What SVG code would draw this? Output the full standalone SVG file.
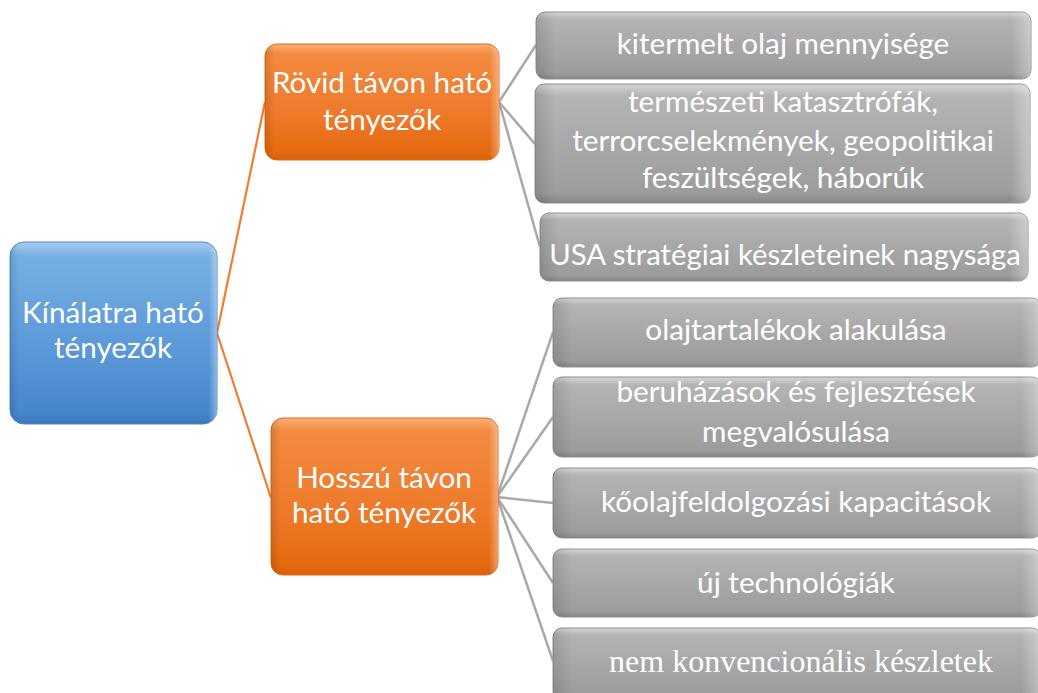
<svg xmlns="http://www.w3.org/2000/svg" width="1038" height="693" viewBox="0 0 1038 693">
<defs>
<linearGradient id="gGray" x1="0" y1="0" x2="0" y2="1">
<stop offset="0" stop-color="#d6d6d6"/>
<stop offset="0.1" stop-color="#b4b4b4"/>
<stop offset="0.5" stop-color="#a8a8a8"/>
<stop offset="0.92" stop-color="#9c9c9c"/>
<stop offset="1" stop-color="#858585"/>
</linearGradient>
<linearGradient id="gOrange" x1="0" y1="0" x2="0" y2="1">
<stop offset="0" stop-color="#f8b07a"/>
<stop offset="0.08" stop-color="#f38a40"/>
<stop offset="0.6" stop-color="#ee7a2a"/>
<stop offset="0.94" stop-color="#e4690f"/>
<stop offset="1" stop-color="#d9600a"/>
</linearGradient>
<linearGradient id="gBlue" x1="0" y1="0" x2="0" y2="1">
<stop offset="0" stop-color="#a8cdf0"/>
<stop offset="0.08" stop-color="#76aee3"/>
<stop offset="0.6" stop-color="#5a98d8"/>
<stop offset="0.94" stop-color="#4586ca"/>
<stop offset="1" stop-color="#3a78bb"/>
</linearGradient>
<linearGradient id="gSide" x1="0" y1="0" x2="1" y2="0">
<stop offset="0" stop-color="#000" stop-opacity="0.12"/>
<stop offset="0.04" stop-color="#000" stop-opacity="0"/>
<stop offset="0.96" stop-color="#fff" stop-opacity="0"/>
<stop offset="1" stop-color="#fff" stop-opacity="0.35"/>
</linearGradient>
</defs>
<style>
.gray{fill:url(#gGray);stroke:#8f8f8f;stroke-width:1}
.orange{fill:url(#gOrange);stroke:#e06a14;stroke-width:1}
.blue{fill:url(#gBlue);stroke:#4a88c8;stroke-width:1}
.side{fill:url(#gSide);stroke:none}
.t{font-family:Lato,"Open Sans","Liberation Sans",sans-serif;fill:#ffffff;text-anchor:middle;font-size:29.7px}
.s{font-family:"Liberation Serif",serif;fill:#ffffff;text-anchor:middle;font-size:32px}
.co{stroke:#ed7d31;stroke-width:2.2;fill:none}
.cg{stroke:#a9a9a9;stroke-width:2.5;fill:none}
</style>
<g id="connectors">
<path class="co" d="M217,333 L265,102"/>
<path class="co" d="M217,333 L271,498"/>
<path class="cg" d="M499,102 L536,45"/>
<path class="cg" d="M499,102 L535,144"/>
<path class="cg" d="M499,102 L540,247"/>
<path class="cg" d="M497,497 L553,332"/>
<path class="cg" d="M497,497 L553,417"/>
<path class="cg" d="M497,497 L553,503"/>
<path class="cg" d="M497,497 L553,583"/>
<path class="cg" d="M497,497 L553,661"/>
</g>
<g id="root">
<rect class="blue" x="10" y="242" width="207" height="182" rx="14"/>
<rect class="side" x="10" y="242" width="207" height="182" rx="14"/>
<text class="t" x="113" y="323">Kínálatra ható</text>
<text class="t" x="113" y="358">tényezők</text>
</g>
<g id="short">
<rect class="orange" x="265" y="44" width="234" height="116" rx="12"/>
<rect class="side" x="265" y="44" width="234" height="116" rx="12"/>
<text class="t" x="382" y="93">Rövid távon ható</text>
<text class="t" x="382" y="130">tényezők</text>
</g>
<g id="long">
<rect class="orange" x="271" y="418" width="227" height="157" rx="12"/>
<rect class="side" x="271" y="418" width="227" height="157" rx="12"/>
<text class="t" x="384" y="488">Hosszú távon</text>
<text class="t" x="384" y="523">ható tényezők</text>
</g>
<g id="s1">
<rect class="gray" x="536" y="12" width="495" height="67" rx="9"/>
<rect class="side" x="536" y="12" width="495" height="67" rx="9"/>
<text class="t" x="783" y="54">kitermelt olaj mennyisége</text>
</g>
<g id="s2">
<rect class="gray" x="535" y="84" width="495" height="119" rx="9"/>
<rect class="side" x="535" y="84" width="495" height="119" rx="9"/>
<text class="t" x="783" y="112">természeti katasztrófák,</text>
<text class="t" x="783" y="151">terrorcselekmények, geopolitikai</text>
<text class="t" x="783" y="188">feszültségek, háborúk</text>
</g>
<g id="s3">
<rect class="gray" x="540" y="213" width="488" height="68" rx="9"/>
<rect class="side" x="540" y="213" width="488" height="68" rx="9"/>
<text class="t" x="785" y="265" style="font-size:29.3px">USA stratégiai készleteinek nagysága</text>
</g>
<g id="l1">
<rect class="gray" x="553" y="298" width="488" height="69" rx="9"/>
<rect class="side" x="553" y="298" width="488" height="69" rx="9"/>
<text class="t" x="796" y="340">olajtartalékok alakulása</text>
</g>
<g id="l2">
<rect class="gray" x="553" y="377" width="488" height="80" rx="9"/>
<rect class="side" x="553" y="377" width="488" height="80" rx="9"/>
<text class="t" x="796" y="402">beruházások és fejlesztések</text>
<text class="t" x="796" y="442">megvalósulása</text>
</g>
<g id="l3">
<rect class="gray" x="553" y="468" width="488" height="70" rx="9"/>
<rect class="side" x="553" y="468" width="488" height="70" rx="9"/>
<text class="t" x="796" y="512">kőolajfeldolgozási kapacitások</text>
</g>
<g id="l4">
<rect class="gray" x="553" y="549" width="488" height="68" rx="9"/>
<rect class="side" x="553" y="549" width="488" height="68" rx="9"/>
<text class="t" x="796" y="593">új technológiák</text>
</g>
<g id="l5">
<rect class="gray" x="553" y="628" width="488" height="72" rx="9"/>
<rect class="side" x="553" y="628" width="488" height="72" rx="9"/>
<text class="s" x="801" y="672">nem konvencionális készletek</text>
</g>
</svg>
